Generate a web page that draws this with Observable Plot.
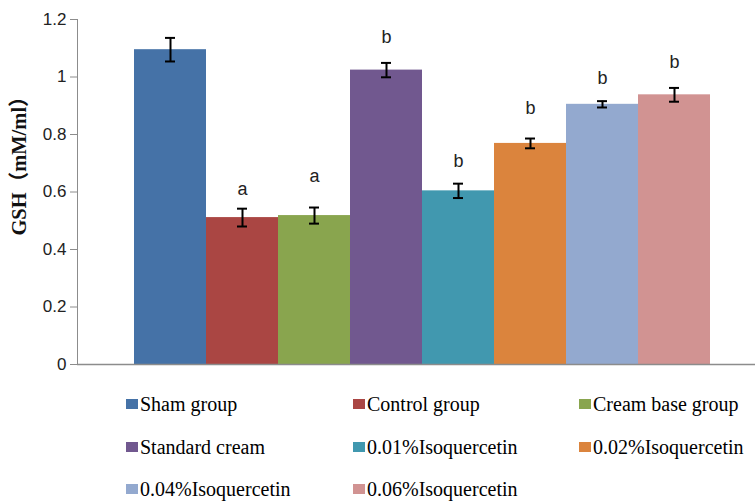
<!DOCTYPE html>
<html>
<head>
<meta charset="utf-8">
<script src="https://cdn.jsdelivr.net/npm/d3@7"></script>
<script src="https://cdn.jsdelivr.net/npm/@observablehq/plot@0.6"></script>
<style>
  html, body { margin: 0; padding: 0; background: #fff; overflow: hidden; }
  #wrap { position: relative; width: 755px; height: 503px; }
  #legend {
    position: absolute; left: 126px; top: 383px;
    display: grid; grid-template-columns: 227px 226px auto;
    grid-auto-rows: 42.5px; align-items: center;
    font-family: "Liberation Serif", "Times New Roman", serif; font-size: 20px; color: #000;
    white-space: nowrap; line-height: 22px;
  }
  .item { display: flex; align-items: center; }
  .sw { width: 12px; height: 10px; margin-right: 2px; flex: none; }
</style>
</head>
<body>
<div id="wrap">
  <div id="chart"></div>
  <div id="legend"></div>
</div>
<script>
const groups = ["Sham group", "Control group", "Cream base group", "Standard cream",
  "0.01%Isoquercetin", "0.02%Isoquercetin", "0.04%Isoquercetin", "0.06%Isoquercetin"];
const gsh = [1.095, 0.511, 0.518, 1.024, 0.604, 0.769, 0.905, 0.938];
const err = [0.041, 0.031, 0.028, 0.025, 0.025, 0.017, 0.011, 0.024];
const letters = ["", "a", "a", "b", "b", "b", "b", "b"];
const letterAt = [null, 0.61, 0.655, 1.138, 0.706, 0.89, 0.995, 1.05];
const colors = ["#4572A7", "#AA4643", "#89A54E", "#71588F", "#4198AF", "#DB843D", "#93A9CF", "#D19392"];
const yTicks = [0, 0.2, 0.4, 0.6, 0.8, 1, 1.2];
const yLabel = "GSH（mM/ml）";

const data = groups.map((g, i) => ({
  group: g, value: gsh[i], lo: gsh[i] - err[i], hi: gsh[i] + err[i],
  letter: letters[i], letterY: letterAt[i]
}));

const plot = Plot.plot({
  width: 755,
  height: 380,
  marginTop: 19,
  marginBottom: 16,
  marginLeft: 77,
  marginRight: 0,
  style: { fontFamily: "'Liberation Sans', Arial, sans-serif", background: "#fff", overflow: "visible" },
  x: { domain: groups, paddingInner: 0, paddingOuter: 0.69, align: 0.56, axis: null },
  y: { domain: [0, 1.2], ticks: yTicks, tickFormat: d => String(d) },
  color: { domain: groups, range: colors },
  marks: [
    Plot.barY(data, { x: "group", y: "value", fill: "group" }),
    Plot.ruleX(data, { x: "group", y1: "lo", y2: "hi", stroke: "#000", strokeWidth: 2 }),
    Plot.tickY(data, { x: "group", y: "lo", stroke: "#000", strokeWidth: 2, insetLeft: 31, insetRight: 31 }),
    Plot.tickY(data, { x: "group", y: "hi", stroke: "#000", strokeWidth: 2, insetLeft: 31, insetRight: 31 }),
    Plot.text(data.filter(d => d.letter), { x: "group", y: "letterY", text: "letter", fontSize: 18, fill: "#222", lineAnchor: "middle" }),
    Plot.ruleY([0], { stroke: "#8c8c8c", strokeWidth: 1.5 }),
    Plot.frame({ anchor: "left", stroke: "#8c8c8c" }),
    Plot.axisY({ ticks: yTicks, tickFormat: d => String(d), tickSize: 7, tickPadding: 4, fontSize: 17, stroke: "#8c8c8c", color: "#222", label: null }),
    Plot.text([yLabel], { frameAnchor: "left", textAnchor: "middle", lineAnchor: "middle", rotate: -90, dx: -58, dy: -31, fontSize: 20.5, fontWeight: "bold",
      fontFamily: "'Liberation Serif', 'Times New Roman', 'Noto Sans CJK SC', serif", fill: "#111" })
  ]
});
document.getElementById("chart").appendChild(plot);

const legend = d3.select("#legend");
groups.forEach((g, i) => {
  const it = legend.append("div").attr("class", "item");
  it.append("span").attr("class", "sw").style("background", colors[i]);
  it.append("span").text(g);
});
</script>
</body>
</html>
